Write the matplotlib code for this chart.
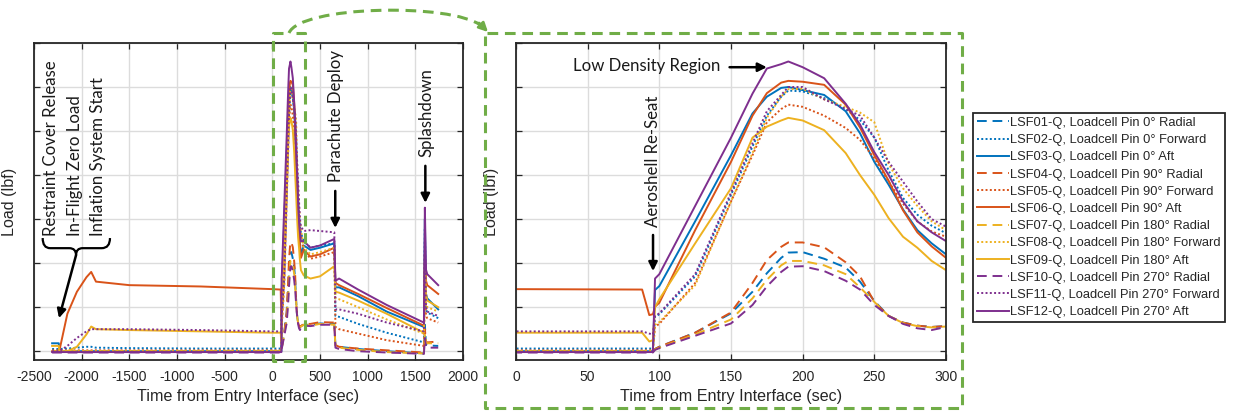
import matplotlib
matplotlib.use("Agg")
import matplotlib.pyplot as plt
from matplotlib.path import Path
from matplotlib.patches import PathPatch, FancyArrowPatch
from matplotlib.lines import Line2D
from matplotlib.transforms import Affine2D

plt.rcParams['font.family'] = ['Liberation Sans', 'DejaVu Sans']
plt.rcParams['axes.unicode_minus'] = False

# time axis shared by all load cells (sec from entry interface)
time_s = [-2310, -2240, -2235, -2150, -2050, -1950, -1900, -1850, -1500, -750, -5,
          88, 93, 95.5, 97, 100, 125, 150, 165, 175, 185, 190, 200, 215, 230, 240,
          250, 260, 270, 280, 290, 300, 330, 400, 500, 650, 662, 700, 900, 1200,
          1590, 1600, 1612, 1625, 1740]

# load values (arbitrary units, y labels were removed in the original)
lsf01 = [0.0, 0.0, 0.0, 0.0, 0.0, 0.0, 0.0, 0.0, 0.0, 0.0, 0.0,
         0.0, 0.0, 0.0, 0.05, 0.1, 0.42, 0.86, 1.35, 1.77, 2.12, 2.24, 2.25, 2.1, 1.9, 1.58,
         1.14, 0.8, 0.65, 0.58, 0.55, 0.57, 0.6, 0.6, 0.63, 0.62, 0.12, 0.1, 0.05, 0.0,
         -0.05, 0.6, 0.15, 0.13, 0.12]
lsf02 = [0.05, 0.05, 0.05, 0.06, 0.08, 0.1, 0.1, 0.08, 0.07, 0.06, 0.06,
         0.06, 0.06, 0.06, 0.78, 0.84, 1.7, 3.55, 4.65, 5.35, 5.78, 5.92, 5.9, 5.75, 5.5, 5.25,
         4.85, 4.1, 3.48, 3.1, 2.85, 2.68, 2.5, 2.35, 2.4, 2.45, 0.8, 0.78, 0.62, 0.42,
         0.2, 2.8, 0.95, 0.88, 0.75]
lsf03 = [0.18, 0.18, 0.0, 0.0, 0.0, 0.0, 0.0, 0.0, 0.0, 0.0, 0.0,
         0.0, 0.0, 0.0, 1.39, 1.48, 2.95, 4.45, 5.4, 5.78, 5.98, 6.0, 5.93, 5.82, 5.45, 4.95,
         4.3, 3.78, 3.22, 2.75, 2.45, 2.2, 2.4, 2.3, 2.35, 2.45, 1.45, 1.45, 1.25, 0.9,
         0.55, 3.0, 1.3, 1.2, 0.95]
lsf04 = [-0.02, -0.02, -0.02, -0.02, -0.02, -0.02, -0.02, -0.02, -0.02, -0.02, -0.02,
         -0.02, -0.02, -0.02, 0.05, 0.1, 0.42, 0.88, 1.55, 2.07, 2.37, 2.47, 2.47, 2.36, 2.02, 1.7,
         1.12, 0.8, 0.65, 0.58, 0.55, 0.57, 0.62, 0.62, 0.66, 0.65, 0.14, 0.1, 0.06, 0.02,
         -0.03, 0.5, 0.22, 0.2, 0.22]
lsf05 = [0.02, 0.02, 0.02, 0.02, 0.02, 0.02, 0.02, 0.02, 0.02, 0.02, 0.02,
         0.02, 0.02, 0.02, 0.56, 0.62, 1.55, 3.4, 4.45, 5.2, 5.5, 5.6, 5.55, 5.35, 5.07, 4.8,
         4.38, 3.85, 3.35, 2.95, 2.72, 2.6, 2.3, 2.1, 2.15, 2.25, 0.55, 0.5, 0.4, 0.25,
         0.12, 1.5, 0.8, 0.75, 0.65]
lsf06 = [0.0, 0.0, 0.0, 0.85, 1.35, 1.68, 1.8, 1.58, 1.5, 1.47, 1.41,
         1.40, 0.82, 0.84, 1.01, 1.1, 2.75, 4.3, 5.35, 5.86, 6.1, 6.14, 6.12, 6.05, 5.6, 5.08,
         4.45, 3.87, 3.2, 2.7, 2.38, 2.12, 2.3, 2.15, 2.2, 2.35, 1.55, 1.5, 1.3, 0.98,
         0.58, 2.2, 1.6, 1.5, 1.3]
lsf07 = [0.0, 0.0, 0.0, 0.0, 0.0, 0.0, 0.0, 0.0, 0.0, 0.0, 0.0,
         0.0, 0.0, 0.0, 0.04, 0.08, 0.38, 0.72, 1.2, 1.62, 1.95, 2.05, 2.05, 1.95, 1.75, 1.45,
         1.12, 0.8, 0.64, 0.57, 0.54, 0.56, 0.6, 0.58, 0.62, 0.6, 0.1, 0.08, 0.03, -0.02,
         -0.05, 0.4, 0.2, 0.18, 0.18]
lsf08 = [0.0, 0.0, 0.0, 0.0, 0.0, 0.0, 0.0, 0.0, 0.0, 0.0, 0.0,
         0.0, 0.0, 0.0, 0.6, 0.66, 1.5, 3.4, 4.5, 5.3, 5.78, 5.95, 5.96, 5.72, 5.55, 5.42,
         5.2, 4.25, 3.7, 3.3, 2.95, 2.75, 2.35, 2.2, 2.25, 2.35, 1.2, 1.18, 1.0, 0.72,
         0.4, 1.8, 1.1, 1.0, 0.9]
lsf09 = [0.12, 0.12, 0.0, 0.0, 0.1, 0.38, 0.56, 0.5, 0.48, 0.45, 0.42,
         0.42, 0.22, 0.25, 1.0, 1.18, 2.45, 3.7, 4.85, 5.1, 5.24, 5.3, 5.24, 5.02, 4.5, 4.0,
         3.55, 3.02, 2.6, 2.35, 2.05, 1.84, 1.72, 1.65, 1.7, 1.93, 1.35, 1.33, 1.15, 0.85,
         0.42, 2.0, 1.3, 1.15, 1.0]
lsf10 = [-0.03, -0.03, -0.03, -0.03, -0.03, -0.03, -0.03, -0.03, -0.03, -0.03, -0.03,
         -0.03, -0.03, -0.03, 0.03, 0.07, 0.35, 0.63, 1.05, 1.47, 1.8, 1.92, 1.93, 1.82, 1.6, 1.4,
         1.05, 0.8, 0.62, 0.52, 0.48, 0.55, 0.58, 0.57, 0.6, 0.6, 0.08, 0.05, 0.0, -0.03,
         -0.06, 0.3, 0.1, 0.08, 0.08]
lsf11 = [0.0, 0.0, 0.0, 0.12, 0.3, 0.45, 0.5, 0.5, 0.5, 0.48, 0.45,
         0.45, 0.4, 0.38, 0.8, 0.86, 1.75, 3.6, 4.72, 5.45, 5.82, 6.0, 6.0, 5.72, 5.5, 5.35,
         4.85, 4.3, 3.85, 3.4, 3.0, 2.83, 2.73, 2.75, 2.73, 2.7, 0.95, 0.95, 0.85, 0.65,
         0.45, 2.5, 1.0, 0.9, 0.8]
lsf12 = [-0.02, -0.02, -0.02, -0.02, -0.02, -0.02, -0.02, -0.02, -0.02, -0.02, -0.02,
         -0.02, -0.02, -0.02, 1.65, 1.75, 3.3, 4.85, 5.85, 6.42, 6.52, 6.58, 6.45, 6.2, 5.62, 5.15,
         4.52, 4.0, 3.4, 2.95, 2.7, 2.5, 2.5, 2.35, 2.4, 2.55, 1.6, 1.65, 1.4, 1.05,
         0.65, 3.26, 1.85, 1.75, 1.5]

labels = ['LSF01-Q, Loadcell Pin 0° Radial', 'LSF02-Q, Loadcell Pin 0° Forward',
          'LSF03-Q, Loadcell Pin 0° Aft', 'LSF04-Q, Loadcell Pin 90° Radial',
          'LSF05-Q, Loadcell Pin 90° Forward', 'LSF06-Q, Loadcell Pin 90° Aft',
          'LSF07-Q, Loadcell Pin 180° Radial', 'LSF08-Q, Loadcell Pin 180° Forward',
          'LSF09-Q, Loadcell Pin 180° Aft', 'LSF10-Q, Loadcell Pin 270° Radial',
          'LSF11-Q, Loadcell Pin 270° Forward', 'LSF12-Q, Loadcell Pin 270° Aft']
loads = [lsf01, lsf02, lsf03, lsf04, lsf05, lsf06, lsf07, lsf08, lsf09, lsf10, lsf11, lsf12]

pin_colors = ['#0072BD', '#D95319', '#EDB120', '#7E2F8E']
dir_styles = [(0, (5, 3)), (0, (1, 1.2)), '-']

W, H = 1233, 411
fig = plt.figure(figsize=(W / 100, H / 100), dpi=100)
ax1 = fig.add_axes([34 / W, 1 - 360 / H, 429 / W, 317 / H])
ax2 = fig.add_axes([516 / W, 1 - 360 / H, 430 / W, 317 / H])

dark = '#262626'
for ax in (ax1, ax2):
    for i, (y, lab) in enumerate(zip(loads, labels)):
        ax.plot(time_s, y, color=pin_colors[i // 3], ls=dir_styles[i % 3], lw=1.4, label=lab)
    ax.set_ylim(-0.2, 7)
    ax.set_yticks(range(0, 8))
    ax.set_yticklabels([])
    ax.grid(True, color='#dcdcdc', lw=1.0)
    ax.set_axisbelow(True)
    ax.tick_params(direction='in', top=True, right=True, length=4, width=0.9,
                   colors=dark, labelsize=10, pad=7)
    for s in ax.spines.values():
        s.set_color(dark)
        s.set_linewidth(1.3)
    ax.set_xlabel('Time from Entry Interface (sec)', fontsize=11.6, color=dark, labelpad=4)
    ax.set_ylabel('Load (lbf)', fontsize=11.6, color=dark, labelpad=5)

ax1.set_xlim(-2500, 2000)
ax1.set_xticks(range(-2500, 2001, 500))
ax2.set_xlim(0, 300)
ax2.set_xticks(range(0, 301, 50))

# annotations
afont = dict(family=['Lato', 'DejaVu Sans'], fontsize=12.1, color='#1a1a1a')
arrow = dict(arrowstyle='-|>', color='black', lw=1.8, mutation_scale=13, shrinkA=0, shrinkB=0)

ax1.text(-2322, 2.62, 'Restraint Cover Release', rotation=90, ha='center', va='bottom', **afont)
ax1.text(-2070, 2.62, 'In-Flight Zero Load', rotation=90, ha='center', va='bottom', **afont)
ax1.text(-1829, 2.62, 'Inflation System Start', rotation=90, ha='center', va='bottom', **afont)

brace = Path([(-2409, 2.57), (-2409, 2.34), (-2330, 2.34), (-2130, 2.34),
              (-2059, 2.34), (-2059, 2.18), (-2059, 2.34), (-1990, 2.34),
              (-1790, 2.34), (-1703, 2.34), (-1703, 2.57)],
             [Path.MOVETO, Path.CURVE3, Path.CURVE3, Path.LINETO,
              Path.CURVE3, Path.CURVE3, Path.CURVE3, Path.CURVE3,
              Path.LINETO, Path.CURVE3, Path.CURVE3])
ax1.add_patch(PathPatch(brace, fill=False, lw=1.6, color='black'))
ax1.annotate('', xy=(-2238, 0.75), xytext=(-2059, 2.18), arrowprops=arrow)

ax1.text(668, 3.84, 'Parachute Deploy', rotation=90, ha='center', va='bottom', **afont)
ax1.annotate('', xy=(660, 2.8), xytext=(660, 3.64), arrowprops=arrow)
ax1.text(1612, 4.4, 'Splashdown', rotation=90, ha='center', va='bottom', **afont)
ax1.annotate('', xy=(1605, 3.37), xytext=(1605, 4.21), arrowprops=arrow)

ax2.text(95.6, 2.82, 'Aeroshell Re-Seat', rotation=90, ha='center', va='bottom', **afont)
ax2.annotate('', xy=(95.6, 1.82), xytext=(95.6, 2.64), arrowprops=arrow)
ax2.text(39.8, 6.47, 'Low Density Region', ha='left', va='center', **afont)
ax2.annotate('', xy=(175, 6.45), xytext=(149, 6.45), arrowprops=arrow)

leg = fig.legend(loc='upper left', bbox_to_anchor=(973 / W, 1 - 113 / H),
                 bbox_transform=fig.transFigure, handles=ax1.get_lines(), labels=labels,
                 fontsize=9.3, frameon=True, fancybox=False, edgecolor=dark, framealpha=1,
                 borderpad=0.3, labelspacing=0.4, handlelength=2.5, handletextpad=0.1,
                 borderaxespad=0, labelcolor=dark)
leg.get_frame().set_linewidth(1.3)

# green dashed zoom callout, drawn in pixel coordinates of the figure
pix = Affine2D().scale(1 / W, -1 / H).translate(0, 1) + fig.transFigure
green = '#70AD47'
gdash = dict(color=green, lw=2.2, ls=(0, (3.5, 2.2)), transform=pix, clip_on=False)
fig.add_artist(Line2D([283, 273, 273, 305, 305, 296], [33, 33, 361, 361, 33, 33], **gdash))
fig.add_artist(Line2D([487, 962, 962, 485, 485], [33, 33, 408, 408, 36], **gdash))
arc = Path([(289, 33), (300, 6), (450, 2), (482, 26)],
           [Path.MOVETO, Path.CURVE4, Path.CURVE4, Path.CURVE4])
fig.add_artist(PathPatch(arc, fill=False, ec=green, lw=2.2, ls=(0, (3.5, 2.2)),
                         transform=pix, clip_on=False))
fig.add_artist(FancyArrowPatch((479, 23), (488, 32), arrowstyle='-|>', mutation_scale=13,
                               color=green, lw=2.0, transform=pix, shrinkA=0, shrinkB=0))

fig.savefig('out.png', dpi=100)
